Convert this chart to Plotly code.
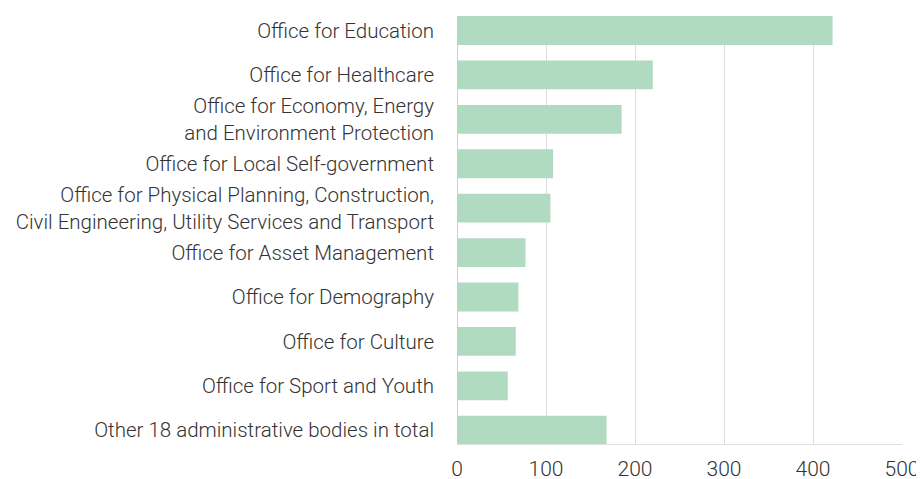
import plotly.graph_objects as go

categories = [
    "Office for Education",
    "Office for Healthcare",
    "Office for Economy, Energy<br>and Environment Protection",
    "Office for Local Self-government",
    "Office for Physical Planning, Construction,<br>Civil Engineering, Utility Services and Transport",
    "Office for Asset Management",
    "Office for Demography",
    "Office for Culture",
    "Office for Sport and Youth",
    "Other 18 administrative bodies in total",
]
values = [422, 220, 185, 108, 105, 77, 69, 66, 57, 168]
x_ticks = [0, 100, 200, 300, 400, 500]

fig = go.Figure(
    go.Bar(
        x=values,
        y=categories,
        orientation="h",
        marker=dict(color="#b0dbc1", line=dict(width=0)),
        width=0.65,
        hoverinfo="x+y",
    )
)

fig.update_layout(
    width=916,
    height=471,
    margin=dict(l=449, r=22, t=8, b=35, autoexpand=False),
    paper_bgcolor="white",
    plot_bgcolor="white",
    showlegend=False,
    font=dict(family="Roboto", size=20.5, color="#333333", weight=300),
    xaxis=dict(
        range=[0, 500],
        tickvals=x_ticks,
        showgrid=True,
        gridcolor="#dcdcdc",
        gridwidth=1,
        zeroline=True,
        zerolinecolor="#d0d0d0",
        zerolinewidth=1,
        showline=True,
        linecolor="#e0e0e0",
        linewidth=1,
        tickfont=dict(size=21, color="#333333", family="Roboto", weight=300),
        ticks="",
        ticklabelstandoff=6,
        automargin=False,
        fixedrange=True,
    ),
    yaxis=dict(
        categoryorder="array",
        categoryarray=categories,
        range=[9.31, -0.327],
        showgrid=False,
        zeroline=False,
        ticks="",
        ticklabelstandoff=22,
        automargin=False,
        tickfont=dict(size=20.5, color="#333333", family="Roboto", weight=300),
        fixedrange=True,
    ),
)

fig.write_html("out.html")
